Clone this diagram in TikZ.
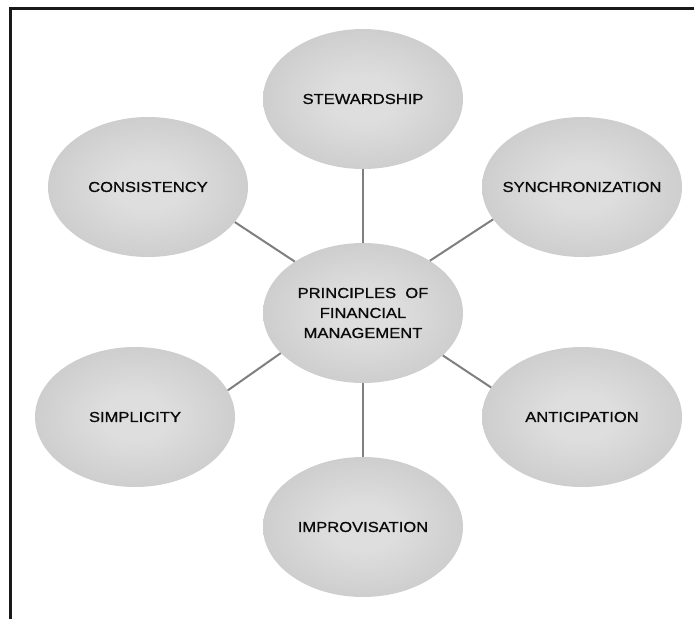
\documentclass[tikz,border=0pt]{standalone}
\usepackage{fontspec}
\setmainfont{Liberation Sans}[FakeStretch=1.15,FakeBold=0.9]
\usetikzlibrary{shapes.geometric}
\definecolor{ellin}{HTML}{DEDEDE}
\definecolor{ellout}{HTML}{BABABA}
\definecolor{linkgray}{HTML}{7F7F7F}
\definecolor{txt}{HTML}{0A0A0A}
\pgfdeclareradialshading{ellshade}{\pgfpoint{0bp}{0bp}}{color(0bp)=(ellin); color(8bp)=(ellin); color(46bp)=(ellout); color(50bp)=(ellout)}
\newcommand\ctext[1]{\makebox[0pt][c]{#1}}
\begin{document}
\begin{tikzpicture}[x=1pt,y=-1pt,
  ell/.style={ellipse, shading=ellshade, minimum width=200pt, minimum height=140pt, inner sep=0pt,
    font=\fontsize{14.4}{20}\selectfont, text=txt, align=center},
  link/.style={draw=linkgray, line width=2pt},
  frame/.style={draw=black!90, line width=2.6pt}]
\useasboundingbox (0,0) rectangle (694,619);
\draw[frame] (694,8.5) -- (10.5,8.5) -- (10.5,619);
\node[ell] (stew) at (363,99) {\ctext{STEWARDSHIP}};
\node[ell] (cons) at (148,187) {\ctext{CONSISTENCY}};
\node[ell] (sync) at (582,187) {\ctext{SYNCHRONIZATION}};
\node[ell] (mid) at (363,313) {PRINCIPLES\ \ OF\\FINANCIAL\\MANAGEMENT};
\node[ell] (simp) at (135,417) {\ctext{SIMPLICITY}};
\node[ell] (anti) at (582,417) {\ctext{ANTICIPATION}};
\node[ell] (impr) at (363,527) {\ctext{IMPROVISATION}};
\draw[link] (stew.south) -- (mid.north);
\draw[link] (mid.143.1) -- (cons.-22.5);
\draw[link] (mid.38.3) -- (sync.200.1);
\draw[link] (mid.206.8) -- (simp.16.9);
\draw[link] (mid.-28.8) -- (anti.162.5);
\draw[link] (mid.south) -- (impr.north);
\end{tikzpicture}
\end{document}
